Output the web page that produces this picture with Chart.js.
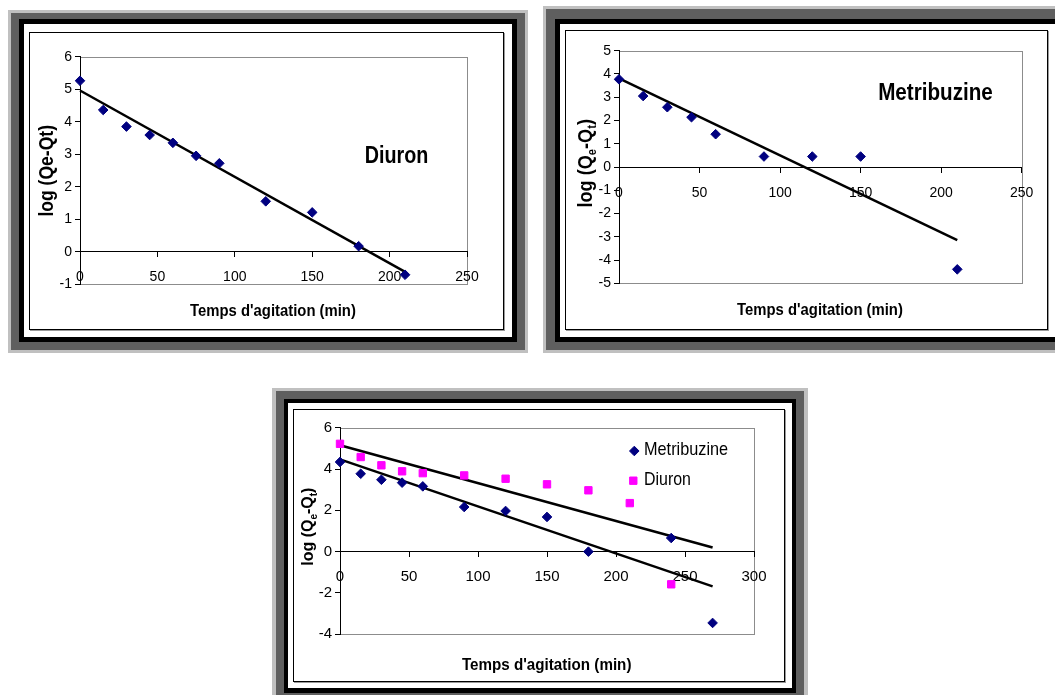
<!DOCTYPE html>
<html lang="fr">
<head>
<meta charset="utf-8">
<title>Cinétique d'adsorption - Diuron et Metribuzine</title>
<script src="https://cdn.jsdelivr.net/npm/chart.js"></script>
<style>
  html, body { margin: 0; padding: 0; background: #fff; }
  body { width: 1055px; height: 695px; overflow: hidden; position: relative; }
  .r { position: absolute; }
  .lt { background: #c0c0c0; }
  .dk { background: #5f5f5f; }
  .bk { background: #000; }
  .wh { background: #fff; }
  .bx { background: #fff; border: 1px solid #000; box-sizing: border-box; box-shadow: 1px 1px 0 #9a9a9a; }
  .cv { position: absolute; }
</style>
</head>
<body>

<!-- Diuron -->
<div class="r lt" style="left:8px;top:10px;width:520px;height:343px"></div>
<div class="r dk" style="left:11px;top:13px;width:514px;height:337px"></div>
<div class="r bk" style="left:19px;top:19px;width:498px;height:323px"></div>
<div class="r wh" style="left:24px;top:24px;width:488px;height:313px"></div>
<div class="r bx" style="left:29px;top:32px;width:475px;height:298px"></div>
<div class="cv" style="left:30px;top:33px;width:473px;height:296px"><canvas id="diuron"></canvas></div>

<!-- Metribuzine -->
<div class="r lt" style="left:543px;top:6px;width:529px;height:347px"></div>
<div class="r dk" style="left:546px;top:9px;width:523px;height:341px"></div>
<div class="r bk" style="left:555px;top:19px;width:506px;height:323px"></div>
<div class="r wh" style="left:560px;top:24px;width:496px;height:313px"></div>
<div class="r bx" style="left:565px;top:30px;width:483px;height:300px"></div>
<div class="cv" style="left:566px;top:31px;width:481px;height:298px"><canvas id="metribuzine"></canvas></div>

<!-- les deux -->
<div class="r lt" style="left:272px;top:388px;width:536px;height:312px"></div>
<div class="r dk" style="left:276px;top:391px;width:528px;height:306px"></div>
<div class="r bk" style="left:284px;top:399px;width:512px;height:294px"></div>
<div class="r wh" style="left:288px;top:403px;width:504px;height:285px"></div>
<div class="r bx" style="left:293px;top:409px;width:492px;height:273px"></div>
<div class="cv" style="left:294px;top:410px;width:490px;height:271px"><canvas id="both"></canvas></div>

<script>
// Diuron seul
const diuronTime = [0, 15, 30, 45, 60, 75, 90, 120, 150, 180, 210];
const diuronLog = [5.26, 4.36, 3.85, 3.59, 3.35, 2.95, 2.72, 1.55, 1.21, 0.17, -0.71];
const diuronFitTime = [0, 210];
const diuronFitLog = [4.96, -0.62];

// Metribuzine seule
const metriTime = [0, 15, 30, 45, 60, 90, 120, 150, 210];
const metriLog = [3.77, 3.05, 2.57, 2.14, 1.41, 0.45, 0.45, 0.45, -4.4];
const metriFitTime = [0, 210];
const metriFitLog = [3.81, -3.14];

// mélange
const mixMetriTime = [0, 15, 30, 45, 60, 90, 120, 150, 180, 240, 270];
const mixMetriLog = [4.34, 3.77, 3.48, 3.34, 3.16, 2.16, 1.97, 1.68, 0, 0.66, -3.45];
const mixDiuronTime = [0, 15, 30, 45, 60, 90, 120, 150, 180, 210, 240];
const mixDiuronLog = [5.22, 4.58, 4.18, 3.89, 3.8, 3.69, 3.53, 3.26, 2.97, 2.35, -1.58];
const mixFitTime = [0, 270];
const mixDiuronFitLog = [5.15, 0.2];
const mixMetriFitLog = [4.47, -1.68];

const xTitle = "Temps d'agitation (min)";
const yTitlePlain = [{ t: 'log (Qe-Qt)' }];
const yTitleSub = [{ t: 'log (Q' }, { t: 'e', sub: true }, { t: '-Q' }, { t: 't', sub: true }, { t: ')' }];

const FONT = "'Liberation Sans', Arial, sans-serif";
const NAVY = '#000080';
const PINK = '#ff00ff';

Chart.defaults.font.family = FONT;
Chart.defaults.color = '#000';

function pts(xs, ys) {
  return xs.map((x, i) => ({ x: x, y: ys[i] }));
}

// texte avec indices, tassé horizontalement (sq) comme la police d'origine
function drawRich(ctx, item) {
  const parts = typeof item.text === 'string' ? [{ t: item.text }] : item.text;
  const w = item.weight || 'normal';
  const big = w + ' ' + item.size + 'px ' + FONT;
  const small = w + ' ' + Math.round(item.size * 0.6) + 'px ' + FONT;
  ctx.save();
  ctx.translate(item.x, item.y);
  if (item.angle) ctx.rotate(item.angle);
  ctx.scale(item.sq || 1, 1);
  ctx.fillStyle = '#000';
  ctx.textBaseline = 'alphabetic';
  ctx.textAlign = 'left';
  let total = 0;
  parts.forEach(p => {
    ctx.font = p.sub ? small : big;
    p.w = ctx.measureText(p.t).width;
    total += p.w;
  });
  let x = item.align === 'left' ? 0 : -total / 2;
  parts.forEach(p => {
    ctx.font = p.sub ? small : big;
    ctx.fillText(p.t, x, p.sub ? item.size * 0.2 : 0);
    x += p.w;
  });
  ctx.restore();
}

function drawMarker(ctx, style, x, y, r, color) {
  ctx.save();
  ctx.fillStyle = color;
  ctx.strokeStyle = color;
  ctx.lineWidth = 1;
  ctx.beginPath();
  if (style === 'rectRot') {
    ctx.moveTo(x, y - r);
    ctx.lineTo(x + r, y);
    ctx.lineTo(x, y + r);
    ctx.lineTo(x - r, y);
  } else {
    const h = r * Math.SQRT1_2;
    ctx.rect(x - h, y - h, 2 * h, 2 * h);
  }
  ctx.closePath();
  ctx.fill();
  ctx.stroke();
  ctx.restore();
}

// cadre gris de la zone de traçage + textes libres
const notes = {
  id: 'notes',
  beforeDraw(chart) {
    const { ctx, chartArea: a } = chart;
    ctx.save();
    ctx.strokeStyle = '#8c8c8c';
    ctx.lineWidth = 1;
    ctx.strokeRect(Math.round(a.left) + 0.5, Math.round(a.top) + 0.5,
      Math.round(a.right) - Math.round(a.left), Math.round(a.bottom) - Math.round(a.top));
    ctx.restore();
  },
  afterDraw(chart, args, opts) {
    const ctx = chart.ctx;
    (opts.texts || []).forEach(t => drawRich(ctx, t));
    (opts.legend || []).forEach(l => {
      const ds = chart.data.datasets[l.dataset];
      drawMarker(ctx, ds.pointStyle, l.mx, l.my, ds.pointRadius, ds.pointBackgroundColor);
      drawRich(ctx, { text: ds.label, x: l.tx, y: l.ty, size: l.size, sq: l.sq, align: 'left' });
    });
  }
};

function xScale(max, size, pad) {
  return {
    type: 'linear', position: { y: 0 }, min: 0, max: max,
    grid: { drawOnChartArea: false, tickLength: 5, color: '#000' },
    border: { color: '#000' },
    ticks: { stepSize: 50, font: { size: size }, padding: pad, maxRotation: 0, autoSkip: false }
  };
}

function yScale(min, max, step, size) {
  return {
    type: 'linear', min: min, max: max,
    grid: { drawOnChartArea: false, tickLength: 5, color: '#000' },
    border: { color: '#000' },
    ticks: { stepSize: step, font: { size: size }, padding: 3, autoSkip: false },
    afterFit: s => { s.width = 40; }
  };
}

function markers(label, data, color, style, r) {
  return {
    label: label, data: data, showLine: false, pointStyle: style, pointRadius: r,
    pointBackgroundColor: color, pointBorderColor: color, pointBorderWidth: 1, clip: false
  };
}

function fitLine(data) {
  return {
    label: '', data: data, showLine: true, pointRadius: 0,
    borderColor: '#000', borderWidth: 2.5, fill: false, clip: false
  };
}

function build(id, datasets, scales, padding, noteOpts) {
  return new Chart(document.getElementById(id), {
    type: 'scatter',
    data: { datasets: datasets },
    options: {
      responsive: true, maintainAspectRatio: false, animation: false, events: [],
      layout: { padding: padding },
      scales: scales,
      plugins: { legend: { display: false }, tooltip: { enabled: false }, notes: noteOpts }
    },
    plugins: [notes]
  });
}

build('diuron',
  [
    markers('Diuron', pts(diuronTime, diuronLog), NAVY, 'rectRot', 4.8),
    fitLine(pts(diuronFitTime, diuronFitLog))
  ],
  { x: xScale(250, 14, 12), y: yScale(-1, 6, 1, 14) },
  { left: 10, right: 36, top: 23.7, bottom: 44.8 },
  {
    texts: [
      { text: yTitlePlain, x: 23.3, y: 137.8, size: 19.5, weight: 'bold', sq: 0.9, angle: -Math.PI / 2 },
      { text: xTitle, x: 243, y: 283, size: 16.5, weight: 'bold', sq: 0.9 },
      { text: 'Diuron', x: 366.5, y: 130.3, size: 23.5, weight: 'bold', sq: 0.84 }
    ]
  });

build('metribuzine',
  [
    markers('Metribuzine', pts(metriTime, metriLog), NAVY, 'rectRot', 4.8),
    fitLine(pts(metriFitTime, metriFitLog))
  ],
  { x: xScale(250, 14, 13), y: yScale(-5, 5, 1, 14) },
  { left: 13, right: 25.3, top: 19.7, bottom: 45.7 },
  {
    texts: [
      { text: yTitleSub, x: 25.7, y: 132.3, size: 19.5, weight: 'bold', sq: 0.93, angle: -Math.PI / 2 },
      { text: xTitle, x: 254, y: 284, size: 16.5, weight: 'bold', sq: 0.9 },
      { text: 'Metribuzine', x: 369.5, y: 69, size: 24, weight: 'bold', sq: 0.86 }
    ]
  });

build('both',
  [
    markers('Metribuzine', pts(mixMetriTime, mixMetriLog), NAVY, 'rectRot', 4.8),
    markers('Diuron', pts(mixDiuronTime, mixDiuronLog), PINK, 'rect', 5.2),
    fitLine(pts(mixFitTime, mixDiuronFitLog)),
    fitLine(pts(mixFitTime, mixMetriFitLog))
  ],
  { x: xScale(300, 15, 11), y: yScale(-4, 6, 2, 15) },
  { left: 6, right: 30, top: 17.7, bottom: 46.7 },
  {
    texts: [
      { text: yTitleSub, x: 19.3, y: 116.7, size: 16, weight: 'bold', angle: -Math.PI / 2 },
      { text: xTitle, x: 252.7, y: 260, size: 16.5, weight: 'bold', sq: 0.92 }
    ],
    legend: [
      { dataset: 0, mx: 340.3, my: 41, tx: 350, ty: 45, size: 17.7, sq: 0.92 },
      { dataset: 1, mx: 339.3, my: 70.7, tx: 350, ty: 75, size: 17.7, sq: 0.9 }
    ]
  });
</script>
</body>
</html>
